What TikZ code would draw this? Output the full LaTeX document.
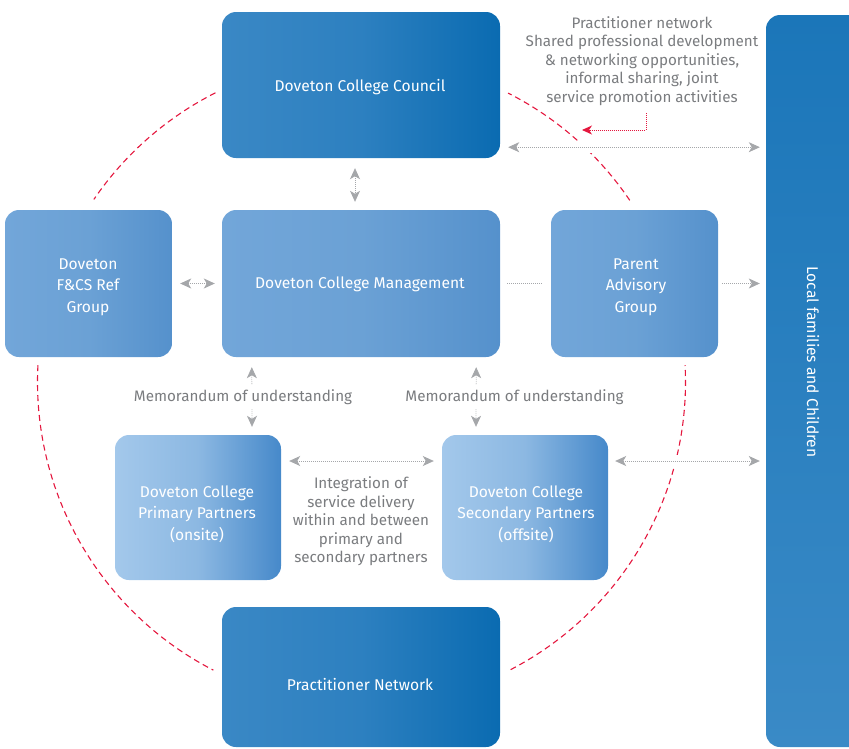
\documentclass[tikz,border=0pt]{standalone}
\usepackage{fontspec}
\setmainfont{Fira Sans}
\usetikzlibrary{arrows.meta,calc}
\definecolor{dkL}{HTML}{3A88C5}
\definecolor{dkM}{HTML}{2D80C0}
\definecolor{dkR}{HTML}{0A6BB1}
\definecolor{mdL}{HTML}{72A6D9}
\definecolor{mdM}{HTML}{6BA1D5}
\definecolor{mdR}{HTML}{5591CC}
\definecolor{ltL}{HTML}{A3C8EB}
\definecolor{ltM}{HTML}{8CB8E2}
\definecolor{ltR}{HTML}{4689CA}
\definecolor{lcT}{HTML}{1B76B9}
\definecolor{lcB}{HTML}{3A8AC6}
\definecolor{txtgray}{HTML}{7A7C7F}
\definecolor{arrgray}{HTML}{A5A7AA}
\definecolor{redline}{HTML}{E4173E}
\tikzset{
  gt/.tip={Stealth[length=11pt,width=10pt,inset=3pt]},
  rt/.tip={Stealth[length=10pt,width=9pt,inset=3pt]},
}
\begin{document}
\begin{tikzpicture}[x=1pt,y=1pt,
  box/.style={rectangle, rounded corners=14pt, inner sep=0pt, draw=none},
  darkbox/.style={box, left color=dkL, right color=dkR, middle color=dkM},
  midbox/.style={box, left color=mdL, right color=mdR, middle color=mdM},
  lightbox/.style={box, left color=ltL, right color=ltR, middle color=ltM},
  localbox/.style={box, top color=lcT, bottom color=lcB},
  wtext/.style={text=white, font=\fontsize{15.6}{21.5}\selectfont, align=center, inner sep=0pt},
  gtext/.style={text=txtgray, font=\fontsize{15.2}{18.5}\selectfont, align=center, inner sep=0pt},
  garrow/.style={draw=arrgray, line width=0.8pt, dash pattern=on 0.8pt off 1.2pt},
  cutarrow/.style={garrow, preaction={draw=white, line width=12pt, solid, -}},
  redc/.style={draw=redline, line width=1.1pt, dash pattern=on 6pt off 4pt},
  redarr/.style={draw=redline, line width=0.9pt, dash pattern=on 0.9pt off 1.1pt, -rt},
]
\useasboundingbox (0,0) rectangle (849,-748);
\clip (0,0) rectangle (849,-748);

% dashed red circle
\coordinate (cc) at (361.5,-382);
\draw[redc] ([shift={(116.8:324)}]cc) arc[start angle=116.8, end angle=145.7, radius=324pt];
\draw[redc] ([shift={(177:324)}]cc) arc[start angle=177, end angle=242.8, radius=324pt];
\draw[redc] ([shift={(-62.6:324)}]cc) arc[start angle=-62.6, end angle=3, radius=324pt];
\draw[redc] ([shift={(34.1:324)}]cc) arc[start angle=34.1, end angle=63.1, radius=324pt];

% boxes
\node[darkbox, minimum width=278pt, minimum height=146pt] (council) at (361,-85) {};
\node[midbox, minimum width=167pt, minimum height=147pt] (ref) at (88.5,-283.5) {};
\node[midbox, minimum width=278pt, minimum height=147pt] (mgmt) at (361,-283.5) {};
\node[midbox, minimum width=167pt, minimum height=147pt] (parent) at (634.5,-283.5) {};
\node[lightbox, minimum width=166pt, minimum height=145pt] (primary) at (198,-507.5) {};
\node[lightbox, minimum width=166pt, minimum height=145pt] (secondary) at (525,-507.5) {};
\node[darkbox, minimum width=278pt, minimum height=140pt] (practice) at (361,-677) {};
\node[localbox, minimum width=110pt, minimum height=732pt] (local) at (821,-381) {};

% connectors
\draw[garrow, gt-gt] ([shift={(-6,-10)}]council.south) -- ([shift={(-6,8)}]mgmt.north);
\draw[garrow, gt-gt] ([xshift=8pt]ref.east) -- ([xshift=-7pt]mgmt.west);
\draw[garrow] ([xshift=7pt]mgmt.east) -- ([xshift=-8pt]parent.west);
\draw[garrow, -gt] ([xshift=4pt]parent.east) -- ([xshift=-6pt]parent.east -| local.west);
\coordinate (c1) at ([shift={(8,11)}]council.south east);
\draw[cutarrow, gt-gt] (c1) -- ($(c1 -| local.west)+(-6,0)$);
\draw[garrow, gt-gt] ([shift={(30,-10)}]mgmt.south west) -- ([shift={(54,8)}]primary.north);
\draw[garrow, gt-gt] ([shift={(-24,-10)}]mgmt.south east) -- ([shift={(-49,8)}]secondary.north);
\draw[garrow, gt-gt] ([shift={(8,46.5)}]primary.east) -- ([shift={(-8,46.5)}]secondary.west);
\coordinate (c2) at ([shift={(7,46.5)}]secondary.east);
\draw[cutarrow, gt-gt] (c2) -- ($(c2 -| local.west)+(-6,0)$);
\coordinate (redstart) at (646,-113);
\coordinate (redtip) at (582,-130);
\draw[redarr] (redstart) |- (redtip);

% texts
\node[wtext] (councilT) at (360,-87) {Doveton College Council};
\node[wtext] (refT) at (88,-287) {Doveton\\F\&CS Ref\\Group};
\node[wtext] (mgmtT) at (360,-284) {Doveton College Management};
\node[wtext] (parentT) at (636,-287) {Parent\\Advisory\\Group};
\node[wtext] (primaryT) at (197,-514) {Doveton College\\Primary Partners\\(onsite)};
\node[wtext] (secondaryT) at (526,-514) {Doveton College\\Secondary Partners\\(offsite)};
\node[wtext] (practiceT) at (360,-684) {Practitioner Network};
\node[wtext, rotate=-90] (localT) at (813,-362) {Local families and Children};

\node[gtext] (note) at (642,-61) {Practitioner network\\Shared professional development\\\& networking opportunities,\\informal sharing, joint\\service promotion activities};
\node[gtext, fill=white, inner ysep=4pt, inner xsep=2pt] (memoL) at (243,-397) {Memorandum of understanding};
\node[gtext, fill=white, inner ysep=4pt, inner xsep=2pt] (memoR) at (514.5,-397) {Memorandum of understanding};
\node[gtext] (integ) at (361,-521.5) {Integration of\\service delivery\\within and between\\primary and\\secondary partners};
\end{tikzpicture}
\end{document}
